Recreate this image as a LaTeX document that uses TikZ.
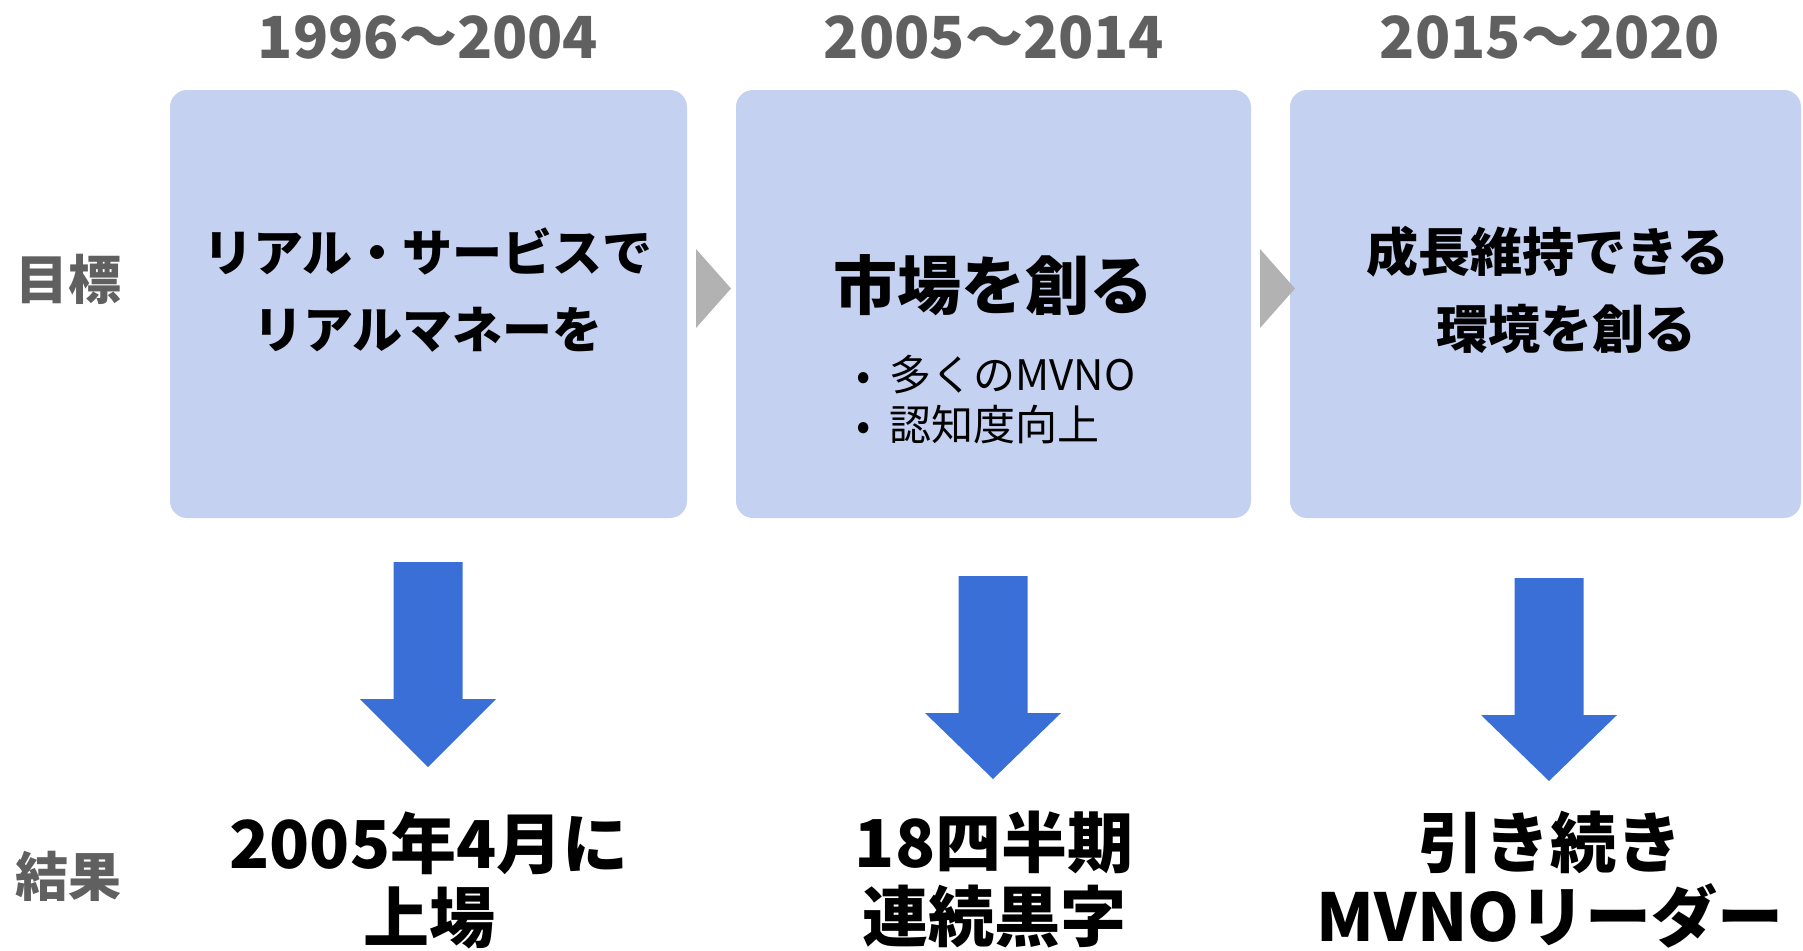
\documentclass[tikz,border=0pt]{standalone}
\usepackage{fontspec}
\setmainfont{Noto Sans CJK JP}
\usetikzlibrary{positioning}
\definecolor{boxfill}{RGB}{197,209,240}
\definecolor{arrowblue}{RGB}{58,111,216}
\definecolor{chevgray}{RGB}{178,178,178}
\definecolor{labelgray}{RGB}{96,96,96}
\tikzset{
    phase/.style = {
        shape=rectangle,
        fill=boxfill,
        rounded corners=17pt,
        minimum width=517pt,
        minimum height=428pt,
        inner sep=0pt
    },
    period/.style = {
        text=labelgray,
        font=\bfseries\fontsize{58}{60}\selectfont
    },
    rowlabel/.style = {
        text=labelgray,
        font=\bfseries\fontsize{53}{60}\selectfont
    },
    goal/.style = {
        align=center,
        font=\bfseries\fontsize{52}{77}\selectfont
    },
    result/.style = {
        align=center,
        font=\bfseries\fontsize{66}{74}\selectfont
    },
    chevron/.style = {fill=chevgray},
    blockarrow/.style = {fill=arrowblue},
}

\begin{document}
\begin{tikzpicture}[x=1pt,y=-1pt]
        \useasboundingbox (0,0) rectangle (1803,950);

        \node[phase] (phaseA) at (428.5,304) {};
        \node[phase, minimum width=515pt] (phaseB) at (993.5,304) {};
        \node[phase, minimum width=511pt] (phaseC) at (1545.5,304) {};

        \node[period] (yearsA) at (428,37) {1996～2004};
        \node[period] (yearsB) at (994,37) {2005～2014};
        \node[period] (yearsC) at (1550,37) {2015～2020};

        \node[rowlabel] (goallabel) at (69,279) {目標};
        \node[rowlabel] (resultlabel) at (69,876) {結果};

        \node[goal, font=\bfseries\fontsize{50}{77}\selectfont] (goalA) at (428,290) {リアル・サービスで\\リアルマネーを};
        \node[goal, font=\bfseries\fontsize{64}{70}\selectfont] (goalB) at (993,285) {市場を創る};
        \node[goal, anchor=west, align=left, font=\fontsize{42}{50}\selectfont] (goalBpts) at (853,400) {•\hspace{0.45em}多くのMVNO\\•\hspace{0.45em}認知度向上};
        \node[goal] (goalC) at (1548,290) {成長維持できる\\\hspace{0.7em}環境を創る};

        \foreach \x in {696,1260}
            \fill[chevron] (\x,249) -- ++(35,39.5) -- ++(-35,39.5) -- cycle;

        \foreach \x/\top/\head/\tip in {428/562/699/767, 993/576/713/779, 1549/578/715/781}
            \fill[blockarrow] (\x-34.5,\top) -- (\x+34.5,\top) -- (\x+34.5,\head) -- (\x+68,\head)
                -- (\x,\tip) -- (\x-68,\head) -- (\x-34.5,\head) -- cycle;

        \node[result] (resultA) at (429,880) {2005年4月に\\上場};
        \node[result] (resultB) at (994,880) {18四半期\\連続黒字};
        \node[result] (resultC) at (1550,880) {引き続き\\MVNOリーダー};
\end{tikzpicture}
\end{document}
